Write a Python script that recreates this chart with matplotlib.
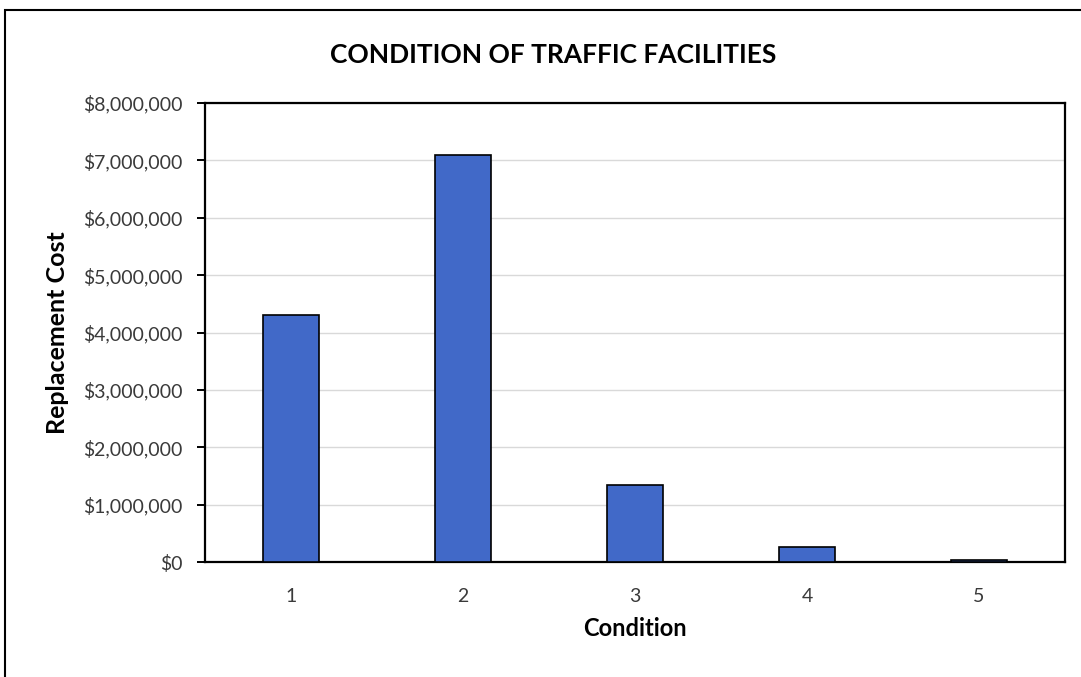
import matplotlib.pyplot as plt
from matplotlib.patches import Rectangle
from matplotlib.ticker import FuncFormatter

# Data
conditions = ["1", "2", "3", "4", "5"]
replacement_cost = [4300000, 7100000, 1340000, 260000, 35000]
y_ticks = [0, 1000000, 2000000, 3000000, 4000000, 5000000, 6000000, 7000000, 8000000]

plt.rcParams['font.family'] = ['Lato', 'DejaVu Sans']

fig = plt.figure(figsize=(10.81, 6.77), dpi=100)
ax = fig.add_axes([205 / 1081, 1 - 562 / 677, 860 / 1081, 459 / 677])

# Outer frame of the chart image
fig.patches.append(Rectangle((5 / 1081, -0.05), 1.2, 1 - 10 / 677 + 0.05,
                             transform=fig.transFigure, fill=False,
                             edgecolor='black', linewidth=1.5))

x = range(len(conditions))
ax.bar(x, replacement_cost, width=0.32, color='#4169C8',
       edgecolor='black', linewidth=1.2, zorder=3)

ax.set_xlim(-0.5, len(conditions) - 0.5)
ax.set_ylim(0, 8000000)
ax.set_yticks(y_ticks)
ax.yaxis.set_major_formatter(FuncFormatter(lambda v, p: "${:,.0f}".format(v)))
ax.set_xticks(list(x))
ax.set_xticklabels(conditions)

ax.grid(axis='y', color='#d9d9d9', linewidth=1, zorder=0)
for s in ax.spines.values():
    s.set_linewidth(1.6)
    s.set_color('black')

ax.tick_params(axis='y', direction='out', length=6, width=1.4,
               labelsize=14, labelcolor='#3a3a3a', pad=10)
ax.tick_params(axis='x', length=0, labelsize=14, labelcolor='#3a3a3a', pad=19)

ax.set_xlabel('Condition', fontsize=17, fontweight='bold', labelpad=8)
ax.set_ylabel('Replacement Cost', fontsize=18, fontweight='bold', labelpad=10)
fig.text(553 / 1081, 1 - 55 / 677, 'CONDITION OF TRAFFIC FACILITIES',
         ha='center', va='center', fontsize=19, fontweight='bold')

fig.savefig('out.png', dpi=100)
